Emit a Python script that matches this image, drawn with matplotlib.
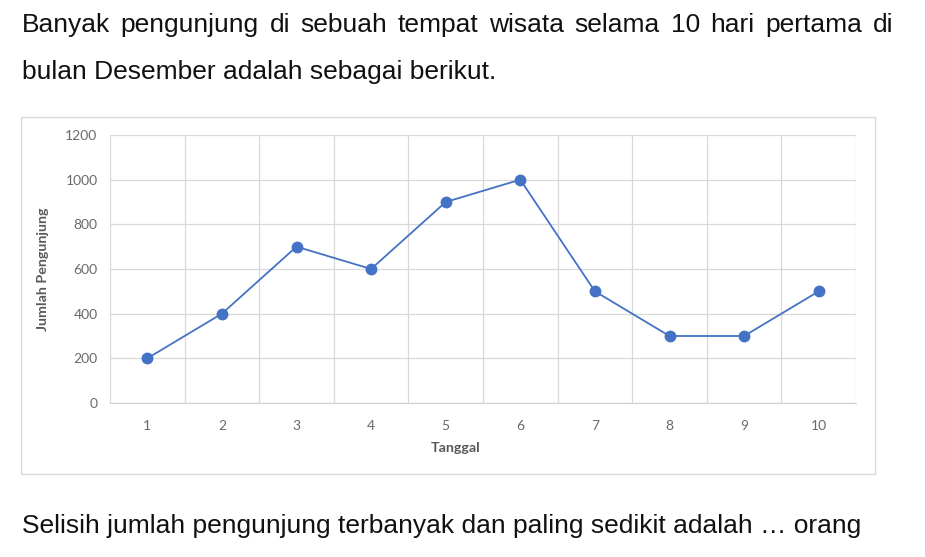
import matplotlib
matplotlib.use("Agg")
from matplotlib import pyplot as plt
from matplotlib.patches import Rectangle
import numpy as np

tanggal = [1, 2, 3, 4, 5, 6, 7, 8, 9, 10]
pengunjung = [200, 400, 700, 600, 900, 1000, 500, 300, 300, 500]
y_ticks = [0, 200, 400, 600, 800, 1000, 1200]

line_top1 = "Banyak pengunjung di sebuah tempat wisata selama 10 hari pertama di"
line_top2 = "bulan Desember adalah sebagai berikut."
line_bottom = "Selisih jumlah pengunjung terbanyak dan paling sedikit adalah \u2026 orang"

W, H = 925, 557
fig = plt.figure(figsize=(W / 100, H / 100), dpi=100)
txt_kw = dict(fontsize=19, family='Liberation Sans', color='#111111', va='baseline')


def justified(text, x0, x1, y):
    # lay words out so the line fills x0..x1 (pixels)
    r = fig.canvas.get_renderer()
    words = text.split(' ')
    objs = [fig.text(0, 1 - y / H, w, **txt_kw) for w in words]
    widths = [o.get_window_extent(r).width for o in objs]
    gap = (x1 - x0 - sum(widths)) / (len(words) - 1)
    x = x0
    for o, w in zip(objs, widths):
        o.set_x(x / W)
        x += w + gap


# chart frame
fig.patches.append(Rectangle((21 / W, 1 - 474 / H), (875 - 21) / W, (474 - 117) / H,
                             transform=fig.transFigure, fill=False,
                             edgecolor='#d9d9d9', linewidth=1.0))

ax = fig.add_axes([110 / W, 1 - 403 / H, (856 - 110) / W, (403 - 135) / H])
ax.plot(tanggal, pengunjung, color='#4472C4', linewidth=1.3,
        marker='o', markersize=7.5, zorder=3)

ax.set_xlim(0.5, 10.5)
ax.set_ylim(0, 1200)
ax.set_yticks(y_ticks)
ax.set_xticks(tanggal)
ax.set_xticks(np.arange(0.5, 11, 1), minor=True)
ax.grid(axis='y', which='major', color='#d9d9d9', linewidth=0.9)
ax.grid(axis='x', which='minor', color='#d9d9d9', linewidth=0.9)
for s in ['top', 'right', 'left']:
    ax.spines[s].set_visible(False)
ax.spines['bottom'].set_color('#d0d0d0')
ax.tick_params(which='both', length=0)
ax.tick_params(axis='y', pad=9, labelsize=10, labelcolor='#6a6a6a')
ax.tick_params(axis='x', pad=12, labelsize=10, labelcolor='#6a6a6a')
for lab in ax.get_xticklabels() + ax.get_yticklabels():
    lab.set_family('Lato')

ax.set_ylabel('Jumlah Pengunjung', fontsize=10.3, fontweight='bold', color='#595959',
              family='Lato', labelpad=12)
fig.text(456 / W, 1 - 448 / H, 'Tanggal', fontsize=10.3, fontweight='bold',
         color='#595959', family='Lato', ha='center', va='center')

# paragraph text
justified(line_top1, 22, 893, 32)
fig.text(22 / W, 1 - 79 / H, line_top2, **txt_kw)
fig.text(22 / W, 1 - 533 / H, line_bottom, **txt_kw)

plt.savefig('out.png', dpi=100)
